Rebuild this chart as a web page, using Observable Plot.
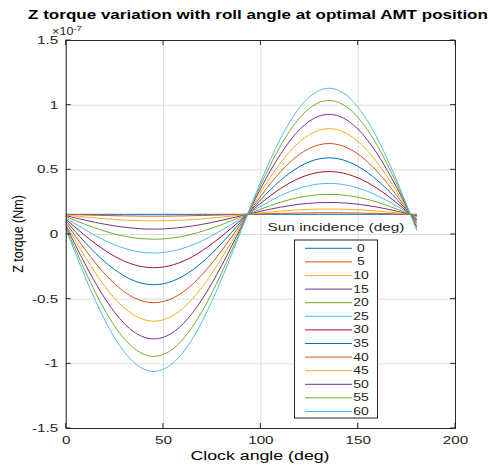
<!DOCTYPE html>
<html><head><meta charset="utf-8">
<script src="https://cdn.jsdelivr.net/npm/d3@7"></script>
<script src="https://cdn.jsdelivr.net/npm/@observablehq/plot@0.6"></script>
<style>body{margin:0;background:#fff;} #chart{width:492px;height:466px;}</style>
</head><body><div id="chart"></div>
<script>
// Clock angle samples (deg)
const clockAngles = [0,10,20,30,40,50,60,70,80,90,100,110,120,130,140,150,160,170,180];
// Sun incidence values (deg) — one series each
const sunIncidence = [0,5,10,15,20,25,30,35,40,45,50,55,60];
// Z torque (x 1e-7 Nm)
const torque0  = [0.156,0.156,0.156,0.156,0.156,0.156,0.156,0.156,0.156,0.156,0.156,0.156,0.156,0.156,0.156,0.156,0.156,0.156,0.156];
const torque5  = [0.155,0.151,0.147,0.144,0.142,0.142,0.144,0.147,0.151,0.155,0.159,0.163,0.166,0.168,0.168,0.166,0.163,0.159,0.155];
const torque10 = [0.151,0.135,0.121,0.111,0.106,0.106,0.111,0.121,0.135,0.151,0.167,0.181,0.191,0.196,0.196,0.191,0.181,0.167,0.151];
const torque15 = [0.145,0.110,0.079,0.056,0.043,0.043,0.056,0.079,0.110,0.145,0.180,0.211,0.234,0.246,0.246,0.234,0.211,0.180,0.145];
const torque20 = [0.137,0.077,0.025,-0.014,-0.034,-0.034,-0.014,0.025,0.077,0.137,0.196,0.249,0.288,0.308,0.308,0.288,0.249,0.196,0.137];
const torque25 = [0.126,0.034,-0.047,-0.107,-0.139,-0.139,-0.107,-0.047,0.034,0.126,0.218,0.299,0.359,0.391,0.391,0.359,0.299,0.218,0.126];
const torque30 = [0.115,-0.012,-0.124,-0.207,-0.251,-0.251,-0.207,-0.124,-0.012,0.115,0.242,0.354,0.437,0.481,0.481,0.437,0.354,0.242,0.115];
const torque35 = [0.102,-0.066,-0.213,-0.322,-0.381,-0.381,-0.322,-0.213,-0.066,0.102,0.270,0.417,0.526,0.585,0.585,0.526,0.417,0.270,0.102];
const torque40 = [0.088,-0.122,-0.307,-0.445,-0.518,-0.518,-0.445,-0.307,-0.122,0.088,0.298,0.483,0.621,0.694,0.694,0.621,0.483,0.298,0.088];
const torque45 = [0.074,-0.180,-0.404,-0.570,-0.659,-0.659,-0.570,-0.404,-0.180,0.074,0.328,0.552,0.718,0.807,0.807,0.718,0.552,0.328,0.074];
const torque50 = [0.061,-0.236,-0.497,-0.691,-0.794,-0.794,-0.691,-0.497,-0.236,0.061,0.358,0.619,0.813,0.916,0.916,0.813,0.619,0.358,0.061];
const torque55 = [0.047,-0.291,-0.589,-0.809,-0.927,-0.927,-0.809,-0.589,-0.291,0.047,0.385,0.683,0.903,1.021,1.021,0.903,0.683,0.385,0.047];
const torque60 = [0.036,-0.338,-0.667,-0.911,-1.042,-1.042,-0.911,-0.667,-0.338,0.036,0.410,0.739,0.983,1.114,1.114,0.983,0.739,0.410,0.036];
const seriesValues = [torque0,torque5,torque10,torque15,torque20,torque25,torque30,torque35,torque40,torque45,torque50,torque55,torque60];
// MATLAB default colour order
const colors = ["#0072BD","#D95319","#EDB120","#7E2F8E","#77AC30","#4DBEEE","#A2142F","#0072BD","#D95319","#EDB120","#7E2F8E","#77AC30","#4DBEEE"];
const xTicks = [0,50,100,150,200];
const yTicks = [-1.5,-1,-0.5,0,0.5,1,1.5];
const titleText = "Z torque variation with roll angle at optimal AMT position";
const xLabel = "Clock angle (deg)";
const yLabel = "Z torque (Nm)";
const legendTitle = "Sun incidence (deg)";

const data = sunIncidence.flatMap((s, i) => clockAngles.map((x, j) => ({x, y: seriesValues[i][j], s})));

const FONT = "'Liberation Sans', Arial, Helvetica, sans-serif";
const INK = "#262626";

function tickMarks(index, scales, values, dims) {
  const {x, y} = scales;
  const L = 5;
  const left = dims.marginLeft, right = dims.width - dims.marginRight;
  const top = dims.marginTop, bottom = dims.height - dims.marginBottom;
  const g = d3.create("svg:g").attr("stroke", INK).attr("stroke-width", 1);
  for (const t of xTicks) {
    const px = x(t);
    g.append("line").attr("x1", px).attr("x2", px).attr("y1", bottom).attr("y2", bottom - L);
    g.append("line").attr("x1", px).attr("x2", px).attr("y1", top).attr("y2", top + L);
  }
  for (const t of yTicks) {
    const py = y(t);
    g.append("line").attr("y1", py).attr("y2", py).attr("x1", left).attr("x2", left + L);
    g.append("line").attr("y1", py).attr("y2", py).attr("x1", right).attr("x2", right - L);
  }
  return g.node();
}

const chart = Plot.plot({
  width: 492, height: 466,
  marginLeft: 65.7, marginRight: 37, marginTop: 40, marginBottom: 38,
  style: {fontFamily: FONT, fontSize: "10.5px", color: INK, background: "#fff", overflow: "visible"},
  x: {domain: [0, 200]},
  y: {domain: [-1.5, 1.5]},
  color: {type: "ordinal", domain: sunIncidence, range: colors},
  marks: [
    Plot.gridX(xTicks, {stroke: "#dedede", strokeOpacity: 1}),
    Plot.gridY(yTicks, {stroke: "#dedede", strokeOpacity: 1}),
    Plot.line(data, {x: "x", y: "y", z: "s", stroke: "s", strokeWidth: 1, curve: "natural"}),
    Plot.frame({stroke: INK}),
    Plot.axisX(xTicks, {tickSize: 0, tickPadding: 8, label: null, tickFormat: d => String(d), fill: INK}),
    Plot.axisY(yTicks, {tickSize: 0, tickPadding: 8, label: null, tickFormat: d => String(d), fill: INK}),
    tickMarks
  ]
});
document.getElementById("chart").appendChild(chart);

const svg = d3.select(chart);
// horizontal stretch of Plot's tick labels, to match reference glyph proportions
svg.selectAll("text").each(function() {
  const el = this;
  const xa = el.getAttribute("x");
  const x = xa && !/em/.test(xa) ? (+xa || 0) : 0;
  const tr = el.getAttribute("transform") || "";
  el.setAttribute("transform", `${tr} translate(${x},0) scale(1.45,1)`);
  if (xa && !/em/.test(xa)) el.setAttribute("x", 0);
});

function addText(str, x, y, {size = 12, weight = "normal", anchor = "middle", sx = 1.42, rotate = 0} = {}) {
  return svg.append("text")
    .attr("transform", `translate(${x},${y}) scale(${sx},1)` + (rotate ? ` rotate(${rotate})` : ""))
    .attr("font-family", FONT).attr("font-size", size).attr("font-weight", weight)
    .attr("text-anchor", anchor).attr("fill", "#000")
    .text(str);
}
addText(titleText, 258, 19, {size: 12, weight: "bold"});
addText(xLabel, 260, 460, {size: 12.5});
addText(yLabel, 23, 234, {size: 12.5, rotate: -90, sx: 1.1});
// exponent
const ex = svg.append("text").attr("transform", "translate(67,35) scale(1.2,1)")
  .attr("font-family", FONT).attr("font-size", 10.5).attr("fill", INK);
ex.append("tspan").text("\u00d710");
ex.append("tspan").attr("dy", -4).attr("font-size", 8).text("-7");

// legend
const lg = svg.append("g");
addText(legendTitle, 336, 231, {size: 11, sx: 1.4}).attr("fill", INK);
lg.append("rect").attr("x", 294.5).attr("y", 240).attr("width", 83).attr("height", 178)
  .attr("fill", "#fff").attr("stroke", INK).attr("stroke-width", 1);
sunIncidence.forEach((s, i) => {
  const yy = 248.3 + i * 13.6;
  lg.append("line").attr("x1", 305).attr("x2", 352).attr("y1", yy).attr("y2", yy)
    .attr("stroke", colors[i]).attr("stroke-width", 1);
  lg.append("text").attr("transform", `translate(361,${yy}) scale(1.4,1)`)
    .attr("dy", "0.35em").attr("font-family", FONT).attr("font-size", 10).attr("fill", INK)
    .text(String(s));
});
</script>
</body></html>
